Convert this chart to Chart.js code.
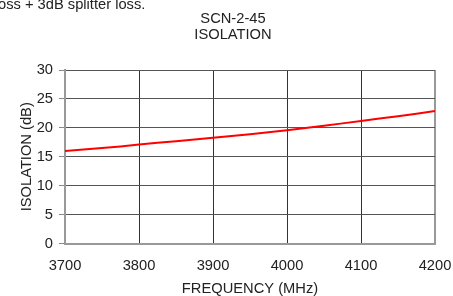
<!DOCTYPE html>
<html>
<head>
<meta charset="utf-8">
<script src="https://cdn.jsdelivr.net/npm/chart.js@4"></script>
<style>
  html, body { margin: 0; padding: 0; background: #fff; }
  canvas { display: block; }
</style>
</head>
<body>
<canvas id="isoChart" width="453" height="296"></canvas>
<script>
// ---- data ----
const freqMHz = [3700, 3750, 3800, 3850, 3900, 3950, 4000, 4050, 4100, 4150, 4200];
const isolationDb = [16.0, 16.5, 17.1, 17.7, 18.3, 18.9, 19.6, 20.35, 21.2, 22.0, 22.9];
const xTicks = [3700, 3800, 3900, 4000, 4100, 4200];
const yTicks = [0, 5, 10, 15, 20, 25, 30];

const FONT = "Liberation Sans, Arial, sans-serif";
const FS = 14.7;

// text outside the axes: cut-off note, title, axis titles
const labelsPlugin = {
    id: "labels",
    afterDraw(chart) {
        const ctx = chart.ctx;
        const area = chart.chartArea;
        ctx.save();
        ctx.fillStyle = "#222";
        ctx.font = FS + "px " + FONT;
        ctx.textBaseline = "alphabetic";

        ctx.textAlign = "left";
        ctx.fillText("oss + 3dB splitter loss.", -2, 8.5);

        ctx.textAlign = "center";
        ctx.fillText("SCN-2-45", 233, 23);
        ctx.fillText("ISOLATION", 233, 39);

        ctx.fillText("FREQUENCY (MHz)", (area.left + area.right) / 2, 293);

        ctx.translate(30.5, (area.top + area.bottom) / 2);
        ctx.rotate(-Math.PI / 2);
        ctx.fillText("ISOLATION (dB)", 0, 0);
        ctx.restore();
    }
};

new Chart(document.getElementById("isoChart"), {
    type: "line",
    data: {
        datasets: [{
            data: freqMHz.map((f, i) => ({ x: f, y: isolationDb[i] })),
            borderColor: "#ff0000",
            borderWidth: 2,
            pointRadius: 0,
            tension: 0.4,
            fill: false
        }]
    },
    options: {
        responsive: false,
        animation: false,
        layout: { padding: { top: 70, right: 18, left: 0, bottom: 0 } },
        plugins: {
            legend: { display: false },
            tooltip: { enabled: false }
        },
        scales: {
            x: {
                type: "linear",
                min: xTicks[0],
                max: xTicks[xTicks.length - 1],
                afterBuildTicks: s => { s.ticks = xTicks.map(v => ({ value: v })); },
                afterFit: s => {
                    s.height = 52.5;
                    s.paddingLeft = 0;
                    s.paddingRight = 0;
                },
                border: { color: "#999", width: 2 },
                grid: {
                    color: c => c.index === xTicks.length - 1 ? "#999" : "#333",
                    lineWidth: c => c.index === xTicks.length - 1 ? 2 : 1,
                    drawTicks: false
                },
                ticks: {
                    color: "#222",
                    font: { family: FONT, size: FS },
                    padding: 14,
                    maxRotation: 0,
                    callback: v => String(v)
                }
            },
            y: {
                min: yTicks[0],
                max: yTicks[yTicks.length - 1],
                afterBuildTicks: s => { s.ticks = yTicks.map(v => ({ value: v })); },
                afterFit: s => {
                    s.width = 65;
                    s.paddingTop = 0;
                    s.paddingBottom = 0;
                },
                border: { color: "#999", width: 2 },
                grid: {
                    color: "#555",
                    lineWidth: 1,
                    tickLength: 6,
                    tickColor: "#888"
                },
                ticks: {
                    color: "#222",
                    font: { family: FONT, size: FS },
                    padding: 6
                }
            }
        }
    },
    plugins: [labelsPlugin]
});
</script>
</body>
</html>
